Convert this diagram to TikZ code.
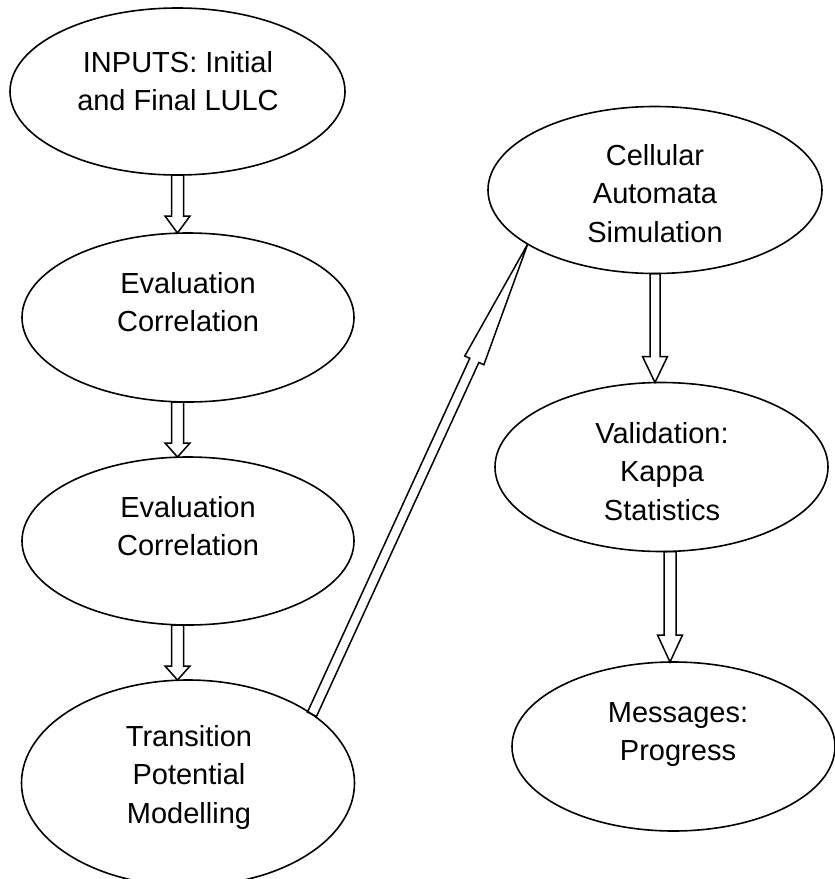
\documentclass[tikz,border=0pt]{standalone}
\usepackage{fontspec}
\setmainfont{Liberation Sans}
\usetikzlibrary{shapes.geometric,calc}
\tikzset{
  oval/.style={ellipse, draw, line width=1.6pt, inner sep=0pt, outer sep=0pt},
  txt/.style={anchor=north, inner sep=0pt, align=center, font=\fontsize{29pt}{38.5pt}\selectfont},
  arrowline/.style={draw, line width=1.5pt, line join=miter}
}
% block arrow: #1 from, #2 to, #3 shaft half width, #4 head half width, #5 head length
\newcommand{\blockarrow}[5]{%
  \coordinate (ba-h) at ($(#2)!#5!(#1)$);
  \draw[arrowline] ($(#1)!#3!90:(#2)$) -- ($(ba-h)!#3!90:(#2)$) -- ($(ba-h)!#4!90:(#2)$) -- (#2)
    -- ($(ba-h)!#4!-90:(#2)$) -- ($(ba-h)!#3!-90:(#2)$) -- ($(#1)!#3!-90:(#2)$) -- cycle;
}
\begin{document}
\begin{tikzpicture}[x=1pt,y=-1pt]
\useasboundingbox (0,0) rectangle (835,879);
% ellipses
\node[oval, minimum width=335pt, minimum height=167pt] (n1) at (177.5,91.5) {};
\node[oval, minimum width=332pt, minimum height=169pt] (n2) at (188,317.5) {};
\node[oval, minimum width=332pt, minimum height=168pt] (n3) at (188,541) {};
\node[oval, minimum width=333pt, minimum height=206pt] (n4) at (188,783) {};
\node[oval, minimum width=334pt, minimum height=167pt] (n5) at (655,190) {};
\node[oval, minimum width=333pt, minimum height=169pt] (n6) at (661.5,467) {};
\node[oval, minimum width=323pt, minimum height=169pt] (n7) at (673.5,746.5) {};
% texts
\node[txt] (t1) at (178,51) {INPUTS: Initial\\and Final LULC};
\node[txt] (t2) at (188,272) {Evaluation\\Correlation};
\node[txt] (t3) at (188,496) {Evaluation\\Correlation};
\node[txt] (t4) at (189,725) {Transition\\Potential\\Modelling};
\node[txt] (t5) at (655,144) {Cellular\\Automata\\Simulation};
\node[txt] (t6) at (662,422) {Validation:\\Kappa\\Statistics};
\node[txt] (t7) at (678,702) {Messages:\\Progress};
% connector end points
\coordinate (a1s) at (n1.south);
\coordinate (a1e) at (n1.south |- n2.north);
\coordinate (a2s) at (n1.south |- n2.south);
\coordinate (a2e) at (n1.south |- n3.north);
\coordinate (a3s) at (n1.south |- n3.south);
\coordinate (a3e) at (n1.south |- n4.north);
\coordinate (a4s) at (n5.south);
\coordinate (a4e) at (n5.south |- n6.north);
\coordinate (a5s) at ($(n6.south)+(8.5,0)$);
\coordinate (a5e) at (a5s |- n7.north);
\coordinate (d1) at (n4.29);
\coordinate (d2) at (n5.203);
% connectors
\blockarrow{a1s}{a1e}{6pt}{12.5pt}{17pt}
\blockarrow{a2s}{a2e}{6pt}{12.5pt}{14pt}
\blockarrow{a3s}{a3e}{6pt}{12.5pt}{14pt}
\blockarrow{a4s}{a4e}{5pt}{12.5pt}{26pt}
\blockarrow{a5s}{a5e}{6pt}{12.5pt}{27pt}
\blockarrow{d1}{d2}{5pt}{10.5pt}{128pt}
\end{tikzpicture}
\end{document}
